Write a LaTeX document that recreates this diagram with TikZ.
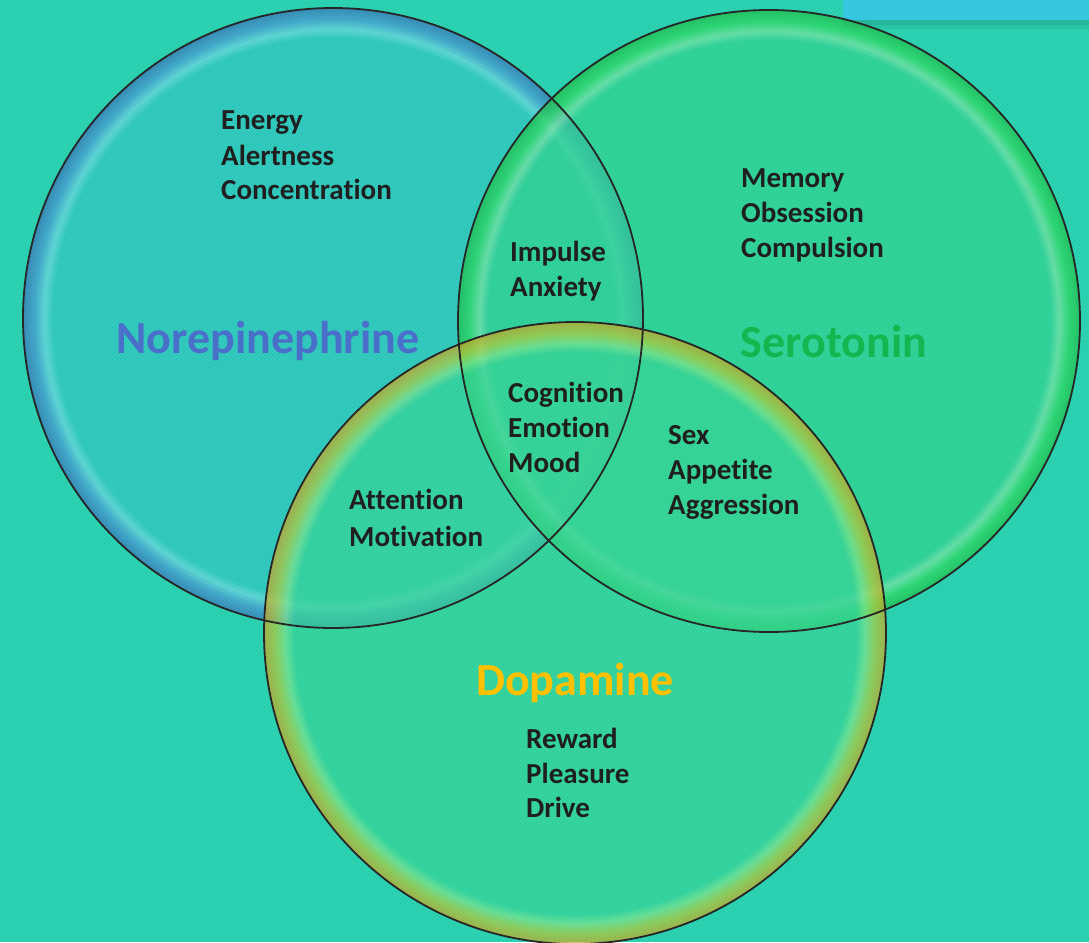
\documentclass[tikz,border=0pt]{standalone}
\usepackage{fontspec}
\setmainfont{Carlito}[Ligatures=NoCommon]
\definecolor{bg}{HTML}{2DD6B5}
\definecolor{nein}{HTML}{36CAC6}
\definecolor{nehl}{HTML}{72DCE4}
\definecolor{nerim}{HTML}{4CA0D8}
\definecolor{nedark}{HTML}{3E78BC}
\definecolor{serin}{HTML}{34D894}
\definecolor{serhl}{HTML}{7CE8A8}
\definecolor{serrim}{HTML}{30DE64}
\definecolor{serdark}{HTML}{22C050}
\definecolor{dopin}{HTML}{3ADA9A}
\definecolor{dophl}{HTML}{84EA90}
\definecolor{doprim}{HTML}{B8D040}
\definecolor{dopdark}{HTML}{D4A820}
\definecolor{netext}{HTML}{4A6FCA}
\definecolor{sertext}{HTML}{14B650}
\definecolor{doptext}{HTML}{FFC000}
\definecolor{tab}{HTML}{38CCE6}
\pgfdeclareradialshading{neshade}{\pgfpointorigin}{color(0bp)=(nein); color(22.6bp)=(nein); color(23.3bp)=(nehl); color(24.1bp)=(nerim); color(25bp)=(nedark); color(50bp)=(nedark)}
\pgfdeclareradialshading{sershade}{\pgfpointorigin}{color(0bp)=(serin); color(22.6bp)=(serin); color(23.3bp)=(serhl); color(24.1bp)=(serrim); color(25bp)=(serdark); color(50bp)=(serdark)}
\pgfdeclareradialshading{dopshade}{\pgfpointorigin}{color(0bp)=(dopin); color(22.6bp)=(dopin); color(23.3bp)=(dophl); color(24.1bp)=(doprim); color(25bp)=(dopdark); color(50bp)=(dopdark)}
\tikzset{
  txt/.style={font=\bfseries\fontsize{29}{35}\selectfont, anchor=base west, inner sep=0pt, text=black!88},
  title/.style={font=\bfseries\fontsize{46}{50}\selectfont, anchor=base, inner sep=0pt},
  rimline/.style={draw=black!85, line width=1.8pt},
  stripe/.style={black, opacity=0.05, line width=1.2pt}
}
\begin{document}
\begin{tikzpicture}[x=1pt,y=-1pt]
\useasboundingbox (0,0) rectangle (1089,942);
\coordinate (cne) at (333,318);
\coordinate (cser) at (769,321);
\coordinate (cdop) at (575,633);
\begin{scope}
\clip (0,0) rectangle (1089,942);
\fill[bg] (0,0) rectangle (1089,942);
% tab with shadow
\fill[black, opacity=0.12] (843,20) rectangle (1089,25);
\fill[black, opacity=0.06] (843,25) rectangle (1089,29);
\fill[tab] (843,0) rectangle (1089,20);
% circles
\shade[shading=neshade, opacity=0.75] (cne) circle[radius=310pt];
\shade[shading=sershade, opacity=0.75] (cser) circle[radius=311pt];
\shade[shading=dopshade, opacity=0.7] (cdop) circle[radius=311pt];
% stripes
\foreach \k in {0,4,...,2032} \draw[stripe] (\k,0) -- ++(-942,942);
% outlines
\draw[rimline] (cne) circle[radius=310pt];
\draw[rimline] (cser) circle[radius=311pt];
\draw[rimline] (cdop) circle[radius=311pt];
\end{scope}
% titles
\node[title, text=netext] (tne) at (268,353) {Norepinephrine};
\node[title, text=sertext] (tser) at (834,357) {Serotonin};
\node[title, text=doptext] (tdop) at (575,695) {Dopamine};
% NE only
\node[txt] (ne1) at (221,129) {Energy};
\node[txt] (ne2) at (221,165) {Alertness};
\node[txt] (ne3) at (221,199) {Concentration};
% NE + Ser
\node[txt] (ns1) at (510,261) {Impulse};
\node[txt] (ns2) at (510,296) {Anxiety};
% Ser only
\node[txt] (se1) at (741,187) {Memory};
\node[txt] (se2) at (741,222) {Obsession};
\node[txt] (se3) at (741,257) {Compulsion};
% all three
\node[txt] (al1) at (508,402) {Cognition};
\node[txt] (al2) at (508,437) {Emotion};
\node[txt] (al3) at (508,472) {Mood};
% Ser + Dop
\node[txt] (sd1) at (668,444) {Sex};
\node[txt] (sd2) at (668,479) {Appetite};
\node[txt] (sd3) at (668,514) {Aggression};
% NE + Dop
\node[txt] (nd1) at (349,509) {Attention};
\node[txt] (nd2) at (349,546) {Motivation};
% Dop only
\node[txt] (do1) at (526,748) {Reward};
\node[txt] (do2) at (526,783) {Pleasure};
\node[txt] (do3) at (526,817) {Drive};
\end{tikzpicture}
\end{document}
